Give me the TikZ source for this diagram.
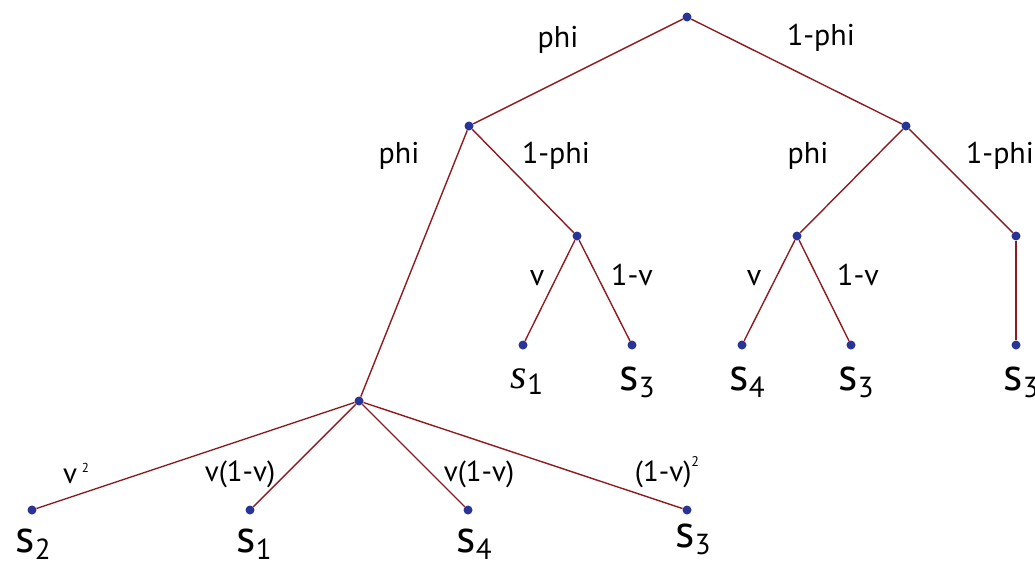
\documentclass[tikz,border=0pt]{standalone}
\usepackage{fontspec}
\setmainfont{PT Sans}
\newfontfamily\serifit{Liberation Serif}
\definecolor{branchred}{RGB}{140,28,32}
\definecolor{dotblue}{RGB}{40,52,150}
\newcommand{\leafs}[1]{s\raisebox{-7pt}{\fontsize{29}{29}\selectfont #1}}
\newcommand{\leafit}[1]{{\serifit\itshape\fontsize{42}{42}\selectfont s}\raisebox{-6pt}{\fontsize{29}{29}\selectfont #1}}

\begin{document}
\begin{tikzpicture}[
			x=1pt, y=-1pt,
			pt/.style={circle, fill=dotblue, inner sep=0pt, minimum size=9pt},
			br/.style={draw=branchred, line width=1.4pt},
			lbl/.style={font=\fontsize{30}{30}\selectfont, inner sep=0pt, anchor=base},
			lbs/.style={font=\fontsize{29}{29}\selectfont, inner sep=0pt, anchor=base},
			leaf/.style={font=\fontsize{46}{46}\selectfont, inner sep=0pt, anchor=base}
		]
		\useasboundingbox (0,0) rectangle (1035,560);

		% tree points
		\node[pt] (root) at (687,17) {};
		\node[pt] (l) at (469,126) {};
		\node[pt] (r) at (906,126) {};
		\node[pt] (ll) at (359,401) {};
		\node[pt] (lr) at (577,236) {};
		\node[pt] (rl) at (797,236) {};
		\node[pt] (rr) at (1016,236) {};
		\node[pt] (lra) at (523,345) {};
		\node[pt] (lrb) at (632,345) {};
		\node[pt] (rla) at (742,345) {};
		\node[pt] (rlb) at (851,345) {};
		\node[pt] (rra) at (1016,345) {};
		\node[pt] (lla) at (32,510) {};
		\node[pt] (llb) at (250,510) {};
		\node[pt] (llc) at (468,510) {};
		\node[pt] (lld) at (687,510) {};

		\draw[br] (root) -- (l);
		\draw[br] (root) -- (r);
		\draw[br] (l) -- (ll);
		\draw[br] (l) -- (lr);
		\draw[br] (r) -- (rl);
		\draw[br] (r) -- (rr);
		\draw[br] (lr) -- (lra);
		\draw[br] (lr) -- (lrb);
		\draw[br] (rl) -- (rla);
		\draw[br] (rl) -- (rlb);
		\draw[br] (rr) -- (rra);
		\draw[br] (ll) -- (lla);
		\draw[br] (ll) -- (llb);
		\draw[br] (ll) -- (llc);
		\draw[br] (ll) -- (lld);

		% branch labels
		\node[lbl] (p1) at (558,47) {phi};
		\node[lbl] (q1) at (821,45) {1-phi};
		\node[lbl] (p2) at (399,163) {phi};
		\node[lbl] (q2) at (556,163) {1-phi};
		\node[lbl] (p3) at (808,163) {phi};
		\node[lbl] (q3) at (1000,163) {1-phi};
		\node[lbl] (v1) at (537,285) {v};
		\node[lbl] (w1) at (632,285) {1-v};
		\node[lbl] (v2) at (754,285) {v};
		\node[lbl] (w2) at (858,285) {1-v};
		\node[lbs] (b1) at (76,483) {v\,\raisebox{11pt}{\fontsize{13}{13}\selectfont 2}};
		\node[lbs] (b2) at (240,481) {v(1-v)};
		\node[lbs] (b3) at (479,481) {v(1-v)};
		\node[lbs] (b4) at (667,481) {(1-v)\raisebox{15pt}{\fontsize{14}{14}\selectfont 2}};

		% leaf states
		\node[leaf] (s1a) at (527,388) {\leafit{1}};
		\node[leaf] (s3a) at (637,390) {\leafs{3}};
		\node[leaf] (s4a) at (747,390) {\leafs{4}};
		\node[leaf] (s3b) at (856,390) {\leafs{3}};
		\node[leaf] (s3c) at (1021,390) {\leafs{3}};
		\node[leaf] (s2d) at (33,552) {\leafs{2}};
		\node[leaf] (s1d) at (254,552) {\leafs{1}};
		\node[leaf] (s4d) at (474,552) {\leafs{4}};
		\node[leaf] (s3d) at (693,547) {\leafs{3}};
	\end{tikzpicture}
\end{document}
